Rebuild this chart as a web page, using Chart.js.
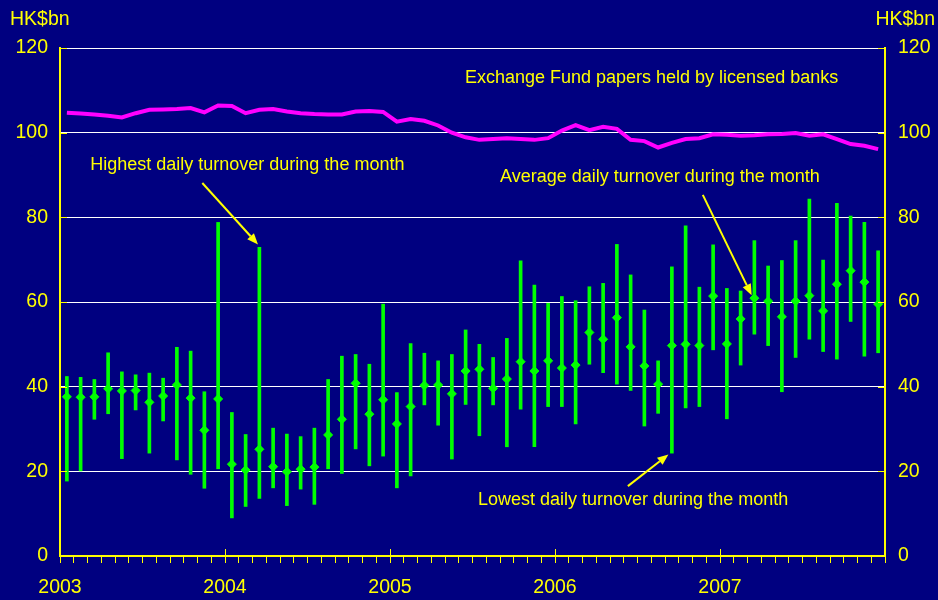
<!DOCTYPE html>
<html>
<head>
<meta charset="utf-8">
<script src="https://cdn.jsdelivr.net/npm/chart.js@4/dist/chart.umd.min.js"></script>
<style>
  html, body { margin: 0; padding: 0; background: #000080; }
  #wrap { width: 938px; height: 600px; }
</style>
</head>
<body>
<div id="wrap"><canvas id="turnover" width="938" height="600"></canvas></div>
<script>
// monthly, Jan 2003 - Dec 2007 (HK$bn)
const startYear = 2003;
const yearTicks = [0, 20, 40, 60, 80, 100, 120];

const avgTurnover = [37.6, 37.5, 37.6, 39.5, 39.0, 39.1, 36.3, 37.8, 40.4, 37.3, 29.7, 37.1,
  21.7, 20.3, 25.2, 21.1, 19.9, 20.5, 21.0, 28.6, 32.3, 40.8, 33.5, 36.9,
  31.2, 35.3, 40.3, 40.4, 38.3, 43.7, 44.1, 39.6, 41.8, 45.9, 43.7, 46.1,
  44.4, 45.1, 52.8, 51.2, 56.3, 49.4, 44.9, 40.6, 49.7, 50.0, 49.7, 61.4,
  50.1, 56.0, 60.9, 60.2, 56.5, 60.2, 61.5, 57.9, 64.2, 67.4, 64.7, 59.5];

const highTurnover = [42.4, 42.2, 41.7, 48.0, 43.5, 42.8, 43.2, 42.0, 49.3, 48.4, 38.8, 78.8,
  33.9, 28.7, 72.9, 30.2, 28.8, 28.2, 30.2, 41.7, 47.2, 47.6, 45.3, 59.5,
  38.6, 50.2, 47.9, 46.1, 47.6, 53.4, 50.0, 46.9, 51.4, 69.7, 64.0, 59.7,
  61.3, 60.3, 63.6, 64.4, 73.6, 66.4, 58.1, 46.1, 68.3, 78.0, 63.5, 73.5,
  63.2, 62.6, 74.5, 68.5, 69.8, 74.5, 84.3, 69.9, 83.3, 80.3, 78.8, 72.1];

const lowTurnover = [17.7, 20.1, 32.3, 33.6, 23.0, 34.5, 24.3, 31.9, 22.7, 19.3, 16.0, 20.6,
  9.0, 11.7, 13.6, 16.1, 11.9, 15.8, 12.2, 20.6, 19.5, 25.3, 21.3, 23.6,
  16.1, 18.9, 35.7, 30.9, 22.9, 35.8, 28.4, 35.7, 25.8, 34.7, 25.8, 35.3,
  35.3, 31.2, 45.3, 43.3, 40.6, 39.1, 30.7, 33.7, 24.3, 35.0, 35.3, 48.7,
  32.4, 45.1, 52.4, 49.7, 38.8, 46.9, 51.2, 48.3, 46.5, 55.4, 47.2, 48.0];

const efPapers = [104.7, 104.5, 104.3, 104.0, 103.6, 104.6, 105.4, 105.5, 105.6, 105.8, 104.8, 106.4,
  106.3, 104.6, 105.4, 105.6, 105.0, 104.6, 104.4, 104.3, 104.3, 105.0, 105.1, 104.9,
  102.6, 103.2, 102.8, 101.7, 100.0, 98.9, 98.3, 98.5, 98.7, 98.5, 98.3, 98.7,
  100.5, 101.8, 100.6, 101.4, 100.9, 98.3, 98.0, 96.5, 97.6, 98.5, 98.7, 99.6,
  99.5, 99.3, 99.4, 99.6, 99.7, 99.9, 99.3, 99.6, 98.5, 97.3, 96.9, 96.1];

// annotations in data space: [month index, value]
const notes = [
  { text: 'Exchange Fund papers held by licensed banks', at: [29.45, 112.9] },
  { text: 'Highest daily turnover during the month', at: [2.2, 92.4], from: [10.35, 88.1], to: [14.4, 73.6] },
  { text: 'Average daily turnover during the month', at: [32.0, 89.5], from: [46.75, 85.3], to: [50.3, 61.6] },
  { text: 'Lowest daily turnover during the month', at: [30.4, 13.2], from: [41.3, 16.5], to: [44.25, 24.0] }
];

const FONT = "'Liberation Sans', Arial, sans-serif";
const YELLOW = '#ffff00';

const monthX = (i) => i + 0.5;
const avgPts = avgTurnover.map((v, i) => ({ x: monthX(i), y: v }));
const rangePts = lowTurnover.map((v, i) => ({ x: monthX(i), y: [v, highTurnover[i]] }));
const efPts = efPapers.map((v, i) => ({ x: monthX(i), y: v }));

const decor = {
  id: 'decor',
  beforeDraw(chart) {
    const c = chart.ctx;
    c.save();
    c.fillStyle = '#000080';
    c.fillRect(0, 0, chart.width, chart.height);
    c.restore();
  },
  afterDraw(chart) {
    const c = chart.ctx;
    const x = chart.scales.x, y = chart.scales.y;
    const area = chart.chartArea;
    c.save();
    c.strokeStyle = YELLOW;
    c.lineWidth = 1;
    // inward ticks on both value axes
    yearTicks.forEach(v => {
      const py = Math.round(y.getPixelForValue(v)) + 0.5;
      c.beginPath();
      c.moveTo(area.left, py); c.lineTo(area.left + 7, py);
      c.moveTo(area.right, py); c.lineTo(area.right - 7, py);
      c.stroke();
    });
    // year ticks cross the axis
    for (let m = 0; m <= 60; m += 12) {
      const px = Math.round(x.getPixelForValue(m)) + 0.5;
      c.beginPath();
      c.moveTo(px, area.bottom - 7); c.lineTo(px, area.bottom);
      c.stroke();
    }
    // unit labels
    c.fillStyle = YELLOW;
    c.font = '19.5px ' + FONT;
    c.textBaseline = 'middle';
    c.textAlign = 'left';
    c.fillText('HK$bn', 10, 20);
    c.textAlign = 'right';
    c.fillText('HK$bn', 935, 20);
    // notes and arrows
    c.font = '18px ' + FONT;
    c.textAlign = 'left';
    notes.forEach(n => {
      c.fillText(n.text, x.getPixelForValue(n.at[0]), y.getPixelForValue(n.at[1]));
      if (!n.from) return;
      const x0 = x.getPixelForValue(n.from[0]), y0 = y.getPixelForValue(n.from[1]);
      const x1 = x.getPixelForValue(n.to[0]), y1 = y.getPixelForValue(n.to[1]);
      const ang = Math.atan2(y1 - y0, x1 - x0);
      const len = 11, wid = 4.5;
      const bx = x1 - len * Math.cos(ang), by = y1 - len * Math.sin(ang);
      c.lineWidth = 2;
      c.beginPath();
      c.moveTo(x0, y0); c.lineTo(bx, by);
      c.stroke();
      c.beginPath();
      c.moveTo(x1, y1);
      c.lineTo(bx + wid * Math.sin(ang), by - wid * Math.cos(ang));
      c.lineTo(bx - wid * Math.sin(ang), by + wid * Math.cos(ang));
      c.closePath();
      c.fill();
    });
    c.restore();
  }
};

new Chart(document.getElementById('turnover'), {
  type: 'bar',
  data: {
    datasets: [
      {
        type: 'line',
        label: 'Exchange Fund papers held by licensed banks',
        data: efPts,
        borderColor: '#ff00ff',
        borderWidth: 4,
        pointRadius: 0,
        tension: 0,
        order: 3
      },
      {
        type: 'bar',
        label: 'Range',
        data: rangePts,
        backgroundColor: '#00ff00',
        borderWidth: 0,
        barThickness: 3,
        order: 2
      },
      {
        type: 'line',
        label: 'Average daily turnover',
        data: avgPts,
        showLine: false,
        pointStyle: 'rectRot',
        pointRadius: 4.5,
        pointBorderWidth: 1,
        pointBackgroundColor: '#00ff00',
        pointBorderColor: '#00ff00',
        order: 1
      }
    ]
  },
  options: {
    responsive: false,
    animation: false,
    layout: { padding: { top: 48, left: 0, right: 0, bottom: 0 } },
    plugins: { legend: { display: false }, tooltip: { enabled: false } },
    scales: {
      x: {
        type: 'linear',
        min: 0,
        max: 60,
        offset: false,
        afterFit: (s) => { s.height = 44; },
        grid: { offset: false, drawOnChartArea: false, drawTicks: true, tickLength: 7, color: YELLOW, lineWidth: 1 },
        border: { color: YELLOW, width: 2 },
        ticks: {
          stepSize: 1,
          autoSkip: false,
          maxRotation: 0,
          padding: 13,
          color: YELLOW,
          font: { family: FONT, size: 19.5 },
          callback: (v) => (v % 12 === 0 && v < 60) ? String(startYear + v / 12) : ''
        }
      },
      y: {
        position: 'left',
        min: 0,
        max: 120,
        afterFit: (s) => { s.width = 60; },
        afterBuildTicks: (s) => { s.ticks = yearTicks.map(v => ({ value: v })); },
        grid: { color: (ctx) => ctx.tick && ctx.tick.value === 0 ? 'rgba(0,0,0,0)' : '#ffffff', lineWidth: 1, drawTicks: false },
        border: { color: YELLOW, width: 2 },
        ticks: { padding: 12, color: YELLOW, font: { family: FONT, size: 19.5 } }
      },
      y2: {
        position: 'right',
        min: 0,
        max: 120,
        afterFit: (s) => { s.width = 53; },
        afterBuildTicks: (s) => { s.ticks = yearTicks.map(v => ({ value: v })); },
        grid: { display: false, drawTicks: false },
        border: { color: YELLOW, width: 2 },
        ticks: { padding: 13, color: YELLOW, font: { family: FONT, size: 19.5 } }
      }
    }
  },
  plugins: [decor]
});
</script>
</body>
</html>
